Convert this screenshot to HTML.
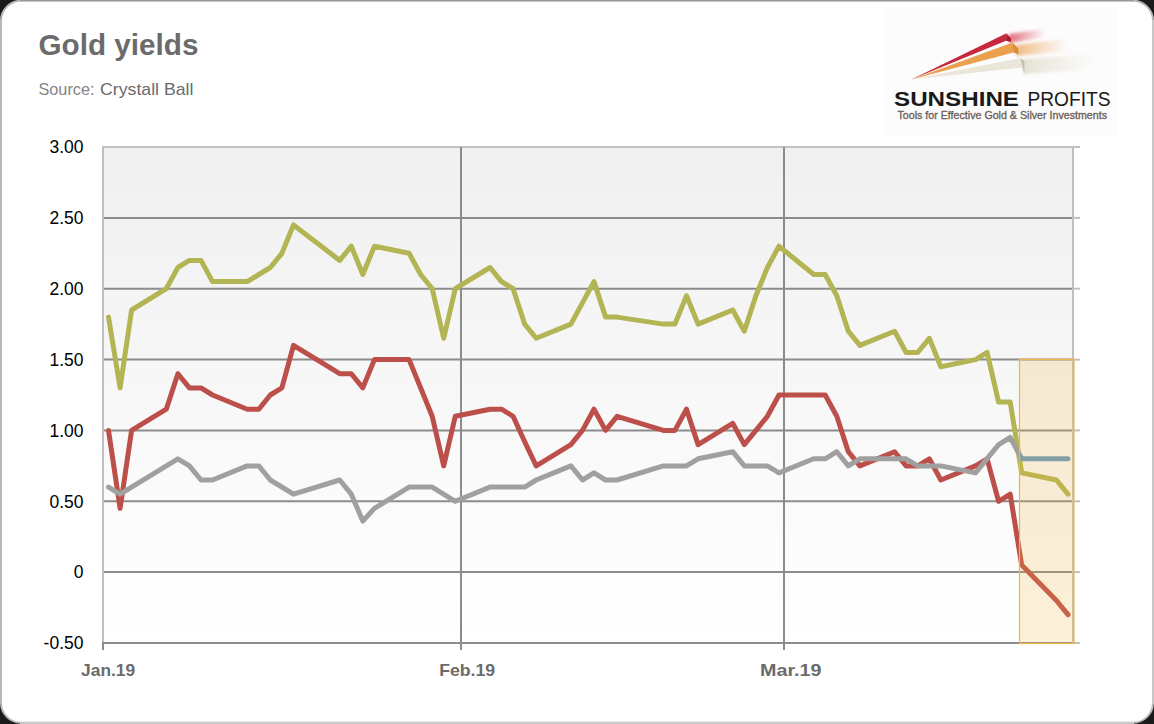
<!DOCTYPE html>
<html><head><meta charset="utf-8">
<style>
html,body{margin:0;padding:0;background:#1a1a1a;width:1154px;height:724px;overflow:hidden}
svg{display:block}
text{font-family:"Liberation Sans",sans-serif}
</style></head>
<body>
<svg width="1154" height="724" viewBox="0 0 1154 724">
<defs>
<linearGradient id="pg" x1="0" y1="0" x2="0" y2="1">
<stop offset="0" stop-color="#f0f0f0"/><stop offset="1" stop-color="#ffffff"/>
</linearGradient>
<clipPath id="cl"><rect x="0" y="0" width="1019.5" height="724"/></clipPath>
<clipPath id="cr"><rect x="1019.5" y="0" width="200" height="724"/></clipPath>
<linearGradient id="tr" x1="0" y1="0" x2="1" y2="0">
<stop offset="0" stop-color="#d84858" stop-opacity="0.8"/><stop offset="1" stop-color="#e06070" stop-opacity="0"/>
</linearGradient>
<linearGradient id="to" x1="0" y1="0" x2="1" y2="0">
<stop offset="0" stop-color="#eeb070" stop-opacity="0.85"/><stop offset="1" stop-color="#f0b880" stop-opacity="0"/>
</linearGradient>
<linearGradient id="tb" x1="0" y1="0" x2="1" y2="0">
<stop offset="0" stop-color="#e4dfd0" stop-opacity="0.95"/><stop offset="1" stop-color="#ece8dc" stop-opacity="0"/>
</linearGradient>
<filter id="bl" x="-20%" y="-50%" width="140%" height="200%"><feGaussianBlur stdDeviation="1.6"/></filter>
</defs>
<!-- card -->
<rect x="1" y="0.75" width="1152" height="722" rx="20" ry="20" fill="#ffffff" stroke="#b8b8b8" stroke-width="2"/>
<line x1="20" y1="0.5" x2="1134" y2="0.5" stroke="#999999" stroke-width="1"/>
<line x1="20" y1="723" x2="1134" y2="723" stroke="#c8c8c8" stroke-width="2"/>
<line x1="1153" y1="20" x2="1153" y2="704" stroke="#c8c8c8" stroke-width="2"/>

<!-- title -->
<text x="38.5" y="54.6" font-size="30" font-weight="bold" fill="#6b6b6b" textLength="160" lengthAdjust="spacingAndGlyphs">Gold yields</text>
<text x="38.5" y="94.5" font-size="16.5" fill="#858585" textLength="56" lengthAdjust="spacingAndGlyphs">Source:</text>
<text x="100" y="94.5" font-size="17" fill="#6b6b6b" textLength="93.5" lengthAdjust="spacingAndGlyphs">Crystall Ball</text>

<!-- logo -->
<g>
<rect x="884" y="9" width="234" height="128" fill="#fcfcfc"/>
<g filter="url(#bl)">
<polygon points="1009,34 1042,29 1046,37 1009,43" fill="url(#tr)"/>
<polygon points="1016,45 1064,39 1068,51 1016,56" fill="url(#to)"/>
<polygon points="1023,59 1092,54 1098,69 1023,74" fill="url(#tb)"/>
</g>
<polygon points="911.3,79.6 1020.5,58 1022.5,67.5" fill="#ebe6da"/>
<polygon points="1020.5,58 1024.5,61 1024.5,74 1022.5,67.5" fill="#c4c0b6"/>
<polygon points="911.3,79.6 1012.6,42.4 1013.5,52.5" fill="#eba04e"/>
<polygon points="1012.6,42.4 1018.3,48.6 1018.3,54.2 1013.5,52.5" fill="#d98c3c"/>
<polygon points="911.3,79.6 1006.5,33.2 1006,40.8" fill="#c8283c"/>
<polygon points="1006.5,33.2 1011,38.4 1011,42 1006,40.8" fill="#a81c2c"/>
<text x="894" y="106.3" font-size="19.5" font-weight="bold" fill="#1a1a1a" textLength="125" lengthAdjust="spacingAndGlyphs">SUNSHINE</text>
<text x="1027.5" y="106.3" font-size="19.5" fill="#1a1a1a" textLength="83" lengthAdjust="spacingAndGlyphs">PROFITS</text>
<text x="897.5" y="119.3" font-size="11" fill="#6e6258" stroke="#6e6258" stroke-width="0.35" textLength="209.5" lengthAdjust="spacingAndGlyphs">Tools for Effective Gold &amp; Silver Investments</text>
</g>

<!-- plot -->
<rect x="103" y="147" width="970" height="496" fill="url(#pg)"/>
<line x1="102" y1="147" x2="1080" y2="147" stroke="#c3c3c3" stroke-width="2"/>
<line x1="103" y1="147" x2="103" y2="643" stroke="#c0c0c0" stroke-width="2"/>
<line x1="1073" y1="147" x2="1073" y2="643" stroke="#c0c0c0" stroke-width="2"/>
<g>
<line x1="104" y1="217.9" x2="1072" y2="217.9" stroke="#8c8c8c" stroke-width="2"/>
<line x1="104" y1="288.7" x2="1072" y2="288.7" stroke="#8c8c8c" stroke-width="2"/>
<line x1="104" y1="359.6" x2="1072" y2="359.6" stroke="#8c8c8c" stroke-width="2"/>
<line x1="104" y1="430.4" x2="1072" y2="430.4" stroke="#8c8c8c" stroke-width="2"/>
<line x1="104" y1="501.3" x2="1072" y2="501.3" stroke="#8c8c8c" stroke-width="2"/>
<line x1="104" y1="572.1" x2="1072" y2="572.1" stroke="#8c8c8c" stroke-width="2"/>
<line x1="104" y1="643.0" x2="1072" y2="643.0" stroke="#8c8c8c" stroke-width="2"/>

</g>
<g stroke="#c0c0c0" stroke-width="2">
<line x1="1073" y1="217.9" x2="1080" y2="217.9"/><line x1="1073" y1="288.7" x2="1080" y2="288.7"/><line x1="1073" y1="359.6" x2="1080" y2="359.6"/><line x1="1073" y1="430.4" x2="1080" y2="430.4"/><line x1="1073" y1="501.3" x2="1080" y2="501.3"/><line x1="1073" y1="572.1" x2="1080" y2="572.1"/><line x1="1073" y1="643" x2="1080" y2="643"/>
</g>
<line x1="461" y1="147" x2="461" y2="650" stroke="#8c8c8c" stroke-width="2"/>
<line x1="784" y1="147" x2="784" y2="650" stroke="#8c8c8c" stroke-width="2"/>
<line x1="103" y1="642" x2="103" y2="650" stroke="#8c8c8c" stroke-width="2"/>

<!-- series -->
<g fill="none" stroke-width="5" stroke-linejoin="round" stroke-linecap="round">
<polyline points="108.5,317.1 120.1,387.9 131.6,310.0 166.3,288.7 177.9,267.5 189.4,260.4 201.0,260.4 212.5,281.6 247.2,281.6 270.3,267.5 281.9,253.3 293.5,224.9 339.7,260.4 351.3,246.2 362.8,274.5 374.4,246.2 409.1,253.3 420.6,274.5 432.2,288.7 443.7,338.3 455.3,288.7 490.0,267.5 501.5,281.6 513.1,288.7 524.7,324.1 536.2,338.3 570.9,324.1 594.0,281.6 605.6,317.1 617.1,317.1 663.4,324.1 674.9,324.1 686.5,295.8 698.1,324.1 732.7,310.0 744.3,331.2 755.9,295.8 767.4,267.5 779.0,246.2 813.7,274.5 825.2,274.5 836.8,295.8 848.3,331.2 859.9,345.4 894.6,331.2 906.1,352.5 917.7,352.5 929.3,338.3 940.8,366.7 975.5,359.6 987.1,352.5 998.6,402.1 1010.2,402.1 1021.7,472.9 1056.4,480.0 1068.0,494.2" stroke="#b3b453"/>
<polyline points="108.5,430.4 120.1,508.4 131.6,430.4 166.3,409.2 177.9,373.7 189.4,387.9 201.0,387.9 212.5,395.0 247.2,409.2 258.8,409.2 270.3,395.0 281.9,387.9 293.5,345.4 339.7,373.7 351.3,373.7 362.8,387.9 374.4,359.6 409.1,359.6 432.2,416.3 443.7,465.9 455.3,416.3 490.0,409.2 501.5,409.2 513.1,416.3 524.7,441.8 536.2,465.9 570.9,444.6 582.5,430.4 594.0,409.2 605.6,430.4 617.1,416.3 663.4,430.4 674.9,430.4 686.5,409.2 698.1,444.6 732.7,423.3 744.3,444.6 767.4,416.3 779.0,395.0 825.2,395.0 836.8,416.3 848.3,451.7 859.9,465.9 894.6,451.7 906.1,465.9 917.7,465.9 929.3,458.8 940.8,480.0 975.5,465.9 987.1,458.8 998.6,501.3 1010.2,494.2 1021.7,565.1 1056.4,600.5 1068.0,614.7" stroke="#bd4f4a"/>
<polyline points="108.5,487.1 120.1,494.2 177.9,458.8 189.4,465.9 201.0,480.0 212.5,480.0 247.2,465.9 258.8,465.9 270.3,480.0 293.5,494.2 339.7,480.0 351.3,494.2 362.8,521.1 374.4,508.4 409.1,487.1 432.2,487.1 455.3,501.3 490.0,487.1 524.7,487.1 536.2,480.0 570.9,465.9 582.5,480.0 594.0,472.9 605.6,480.0 617.1,480.0 663.4,465.9 686.5,465.9 698.1,458.8 732.7,451.7 744.3,465.9 767.4,465.9 779.0,472.9 813.7,458.8 825.2,458.8 836.8,451.7 848.3,465.9 859.9,458.8 906.1,458.8 917.7,465.9 940.8,465.9 975.5,472.9 998.6,444.6 1010.2,437.5 1021.7,458.8 1068.0,458.8" stroke="#a0a0a0" clip-path="url(#cl)"/>
<polyline points="1010.2,437.5 1021.7,458.8 1068.0,458.8" stroke="#6a9cc0" clip-path="url(#cr)"/>
</g>

<!-- highlight box -->
<rect x="1019.5" y="359.5" width="54.5" height="284" fill="rgba(240,180,60,0.2)" stroke="#f2b447" stroke-width="1.2"/>

<!-- y labels -->
<g font-size="17.5" fill="#000000">
<text x="83.5" y="153.3" text-anchor="end">3.00</text>
<text x="83.5" y="224.2" text-anchor="end">2.50</text>
<text x="83.5" y="295.0" text-anchor="end">2.00</text>
<text x="83.5" y="365.9" text-anchor="end">1.50</text>
<text x="83.5" y="436.7" text-anchor="end">1.00</text>
<text x="83.5" y="507.6" text-anchor="end">0.50</text>
<text x="83.5" y="578.4" text-anchor="end">0</text>
<text x="83.5" y="649.3" text-anchor="end">-0.50</text>

</g>
<!-- x labels -->
<g font-size="17" font-weight="bold" fill="#6b6b6b" text-anchor="middle">
<text x="108.1" y="675.8" textLength="54" lengthAdjust="spacingAndGlyphs">Jan.19</text>
<text x="467.2" y="675.8" textLength="56" lengthAdjust="spacingAndGlyphs">Feb.19</text>
<text x="790.8" y="675.8" textLength="61.4" lengthAdjust="spacingAndGlyphs">Mar.19</text>
</g>
</svg>
</body></html>
